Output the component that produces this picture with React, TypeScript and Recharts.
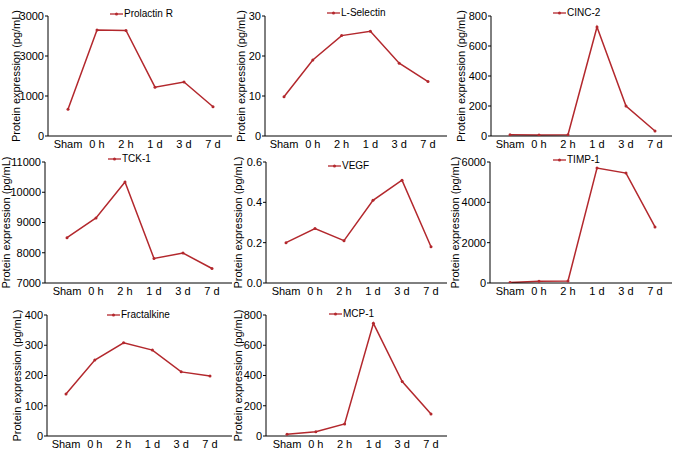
import React from "react";
import { LineChart, Line, XAxis, YAxis, Legend } from "recharts";

const categories = ["Sham", "0 h", "2 h", "1 d", "3 d", "7 d"];

const prolactinR = [670, 2650, 2640, 1220, 1350, 730];
const lSelectin = [9.8, 19.0, 25.1, 26.2, 18.2, 13.6];
const cinc2 = [8, 6, 9, 727, 200, 33];
const tck1 = [8500, 9150, 10340, 7810, 7990, 7480];
const vegf = [0.2, 0.27, 0.21, 0.41, 0.51, 0.18];
const timp1 = [20, 90, 100, 5700, 5450, 2780];
const fractalkine = [139, 251, 308, 284, 212, 198];
const mcp1 = [12, 28, 80, 745, 360, 145];

// y ticks and the labels printed at them (the first panel really says 3000 twice)
const prolactinTicks = [0, 1000, 2000, 3000];
const prolactinLabels = ["0", "1000", "3000", "3000"];
const selectinTicks = [0, 10, 20, 30];
const cincTicks = [0, 200, 400, 600, 800];
const tckTicks = [7000, 8000, 9000, 10000, 11000];
const vegfTicks = [0, 0.2, 0.4, 0.6];
const vegfLabels = ["0.0", "0.2", "0.4", "0.6"];
const timpTicks = [0, 2000, 4000, 6000];
const fractalkineTicks = [0, 100, 200, 300, 400];
const mcpTicks = [0, 200, 400, 600, 800];

const RED = "#b3282d";
const FONT = "'Liberation Sans', Arial, Helvetica, sans-serif";
const H = 160;
const BLEED = 14; // svg starts a bit left of its cell so the axis title isn't clipped

type Panel = {
  name: string;
  values: number[];
  ticks: number[];
  labels?: string[];
  x: number; // cell origin
  y: number;
  left: number; // plot box in page px
  top: number;
  bottom: number;
  right: number;
  padL: number;
  padR: number;
  titleX: number;
  legendX: number;
  legendY: number;
};

const panels: Panel[] = [
  { name: "Prolactin R", values: prolactinR, ticks: prolactinTicks, labels: prolactinLabels,
    x: 0, y: 0, left: 48, top: 16, bottom: 136, right: 232, padL: 20, padR: 19, titleX: 16, legendX: 110, legendY: 15 },
  { name: "L-Selectin", values: lSelectin, ticks: selectinTicks,
    x: 225, y: 0, left: 265, top: 16, bottom: 136, right: 447, padL: 19, padR: 19, titleX: 241, legendX: 327, legendY: 14 },
  { name: "CINC-2", values: cinc2, ticks: cincTicks,
    x: 450, y: 0, left: 491, top: 16, bottom: 136, right: 672, padL: 19, padR: 17, titleX: 461, legendX: 553, legendY: 14 },
  { name: "TCK-1", values: tck1, ticks: tckTicks,
    x: 0, y: 150, left: 45, top: 162, bottom: 283, right: 232, padL: 22, padR: 20, titleX: 6, legendX: 108, legendY: 160 },
  { name: "VEGF", values: vegf, ticks: vegfTicks, labels: vegfLabels,
    x: 225, y: 150, left: 266, top: 162, bottom: 283, right: 447, padL: 20, padR: 16, titleX: 238, legendX: 328, legendY: 167 },
  { name: "TIMP-1", values: timp1, ticks: timpTicks,
    x: 450, y: 150, left: 490, top: 162, bottom: 283, right: 672, padL: 20, padR: 17, titleX: 455, legendX: 553, legendY: 161 },
  { name: "Fractalkine", values: fractalkine, ticks: fractalkineTicks,
    x: 0, y: 300, left: 47, top: 315, bottom: 436, right: 232, padL: 19, padR: 22, titleX: 17, legendX: 107, legendY: 316 },
  { name: "MCP-1", values: mcp1, ticks: mcpTicks,
    x: 225, y: 300, left: 266, top: 315, bottom: 436, right: 447, padL: 21, padR: 16, titleX: 238, legendX: 329, legendY: 315 },
];

function LegendBox({ name }: { name: string }) {
  return (
    <div style={{ display: "flex", alignItems: "center", fontFamily: FONT, fontSize: 10, color: "#000", whiteSpace: "nowrap" }}>
      <svg width={13} height={6} style={{ marginRight: 1 }}>
        <line x1={0} y1={3} x2={13} y2={3} stroke={RED} strokeWidth={1.3} />
        <circle cx={6.5} cy={3} r={1.5} fill={RED} />
      </svg>
      <span>{name}</span>
    </div>
  );
}

function MiniChart({ p }: { p: Panel }) {
  const data = categories.map((c, i) => ({ cat: c, value: p.values[i] }));
  const ox = p.x - BLEED;
  const width = p.right - ox + 2;
  const xAxisHeight = 16;
  const marginBottom = H - (p.bottom - p.y) - xAxisHeight;
  const midY = (p.top + p.bottom) / 2 - p.y;
  const tx = p.titleX - ox;
  const fmt = (v: number) => {
    const i = p.ticks.findIndex((t) => Math.abs(t - v) < 1e-9);
    return p.labels && i >= 0 ? p.labels[i] : String(v);
  };
  return (
    <div style={{ position: "absolute", left: ox, top: p.y, width, height: H }}>
      <LineChart
        width={width}
        height={H}
        data={data}
        margin={{ top: p.top - p.y, right: 2, bottom: marginBottom, left: 0 }}
      >
        <XAxis
          dataKey="cat"
          padding={{ left: p.padL, right: p.padR }}
          interval={0}
          height={xAxisHeight}
          tickLine={false}
          tickSize={4}
          tickMargin={0}
          axisLine={{ stroke: "#000", strokeWidth: 1 }}
          tick={{ fill: "#000", fontSize: 11, fontFamily: FONT }}
        />
        <YAxis
          type="number"
          width={p.left - ox}
          domain={[p.ticks[0], p.ticks[p.ticks.length - 1]]}
          ticks={p.ticks}
          interval={0}
          allowDataOverflow
          tickFormatter={fmt}
          tickSize={3}
          tickMargin={1}
          axisLine={{ stroke: "#000", strokeWidth: 1 }}
          tickLine={{ stroke: "#000", strokeWidth: 1 }}
          tick={{ fill: "#000", fontSize: 11, fontFamily: FONT }}
          label={{
            content: () => (
              <text
                x={tx}
                y={midY}
                transform={`rotate(-90, ${tx}, ${midY})`}
                textAnchor="middle"
                dominantBaseline="central"
                fontSize={11}
                fontFamily={FONT}
                fill="#000"
              >
                Protein expression (pg/mL)
              </text>
            ),
          }}
        />
        <Legend
          layout="horizontal"
          verticalAlign="middle"
          align="center"
          wrapperStyle={{ left: p.legendX - ox, top: p.legendY - p.y - 7, width: "auto", height: 14 }}
          content={() => <LegendBox name={p.name} />}
        />
        <Line
          type="linear"
          dataKey="value"
          name={p.name}
          stroke={RED}
          strokeWidth={1.5}
          dot={{ r: 1.5, fill: RED, stroke: RED, strokeWidth: 0 }}
          activeDot={false}
          isAnimationActive={false}
        />
      </LineChart>
    </div>
  );
}

export default function App() {
  return (
    <div style={{ position: "absolute", left: 0, top: 0, width: 675, height: 451, background: "#fff", overflow: "hidden" }}>
      {panels.map((p) => (
        <MiniChart key={p.name} p={p} />
      ))}
    </div>
  );
}
